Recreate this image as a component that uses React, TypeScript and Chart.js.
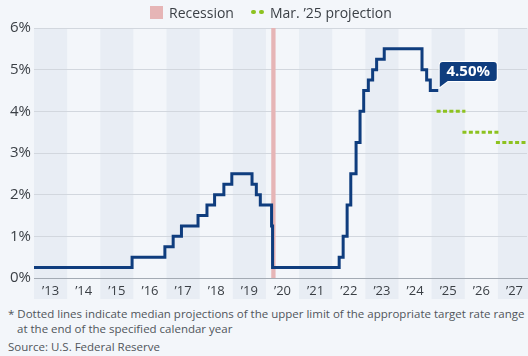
import React, { useEffect, useRef } from "react";
import { Chart, registerables } from "chart.js";

Chart.register(...registerables);

// Fed funds target rate (upper limit), decimal year of change -> new value
const rateDates = [2013.0, 2015.96, 2016.95, 2017.2, 2017.45, 2017.95, 2018.22, 2018.45, 2018.73, 2018.97, 2019.58, 2019.71, 2019.83, 2020.17, 2020.2, 2022.21, 2022.33, 2022.45, 2022.56, 2022.72, 2022.84, 2022.95, 2023.09, 2023.22, 2023.34, 2023.57, 2024.71, 2024.85, 2024.96, 2025.2];
const rateValues = [0.25, 0.5, 0.75, 1.0, 1.25, 1.5, 1.75, 2.0, 2.25, 2.5, 2.25, 2.0, 1.75, 1.25, 0.25, 0.5, 1.0, 1.75, 2.5, 3.25, 4.0, 4.5, 4.75, 5.0, 5.25, 5.5, 5.0, 4.75, 4.5, 4.5];

// Mar. '25 projections (start, end, value)
const projStarts = [2025.15, 2025.93, 2026.94];
const projEnds = [2026.02, 2027.02, 2028.0];
const projValues = [4.0, 3.5, 3.25];

const years = [2013, 2014, 2015, 2016, 2017, 2018, 2019, 2020, 2021, 2022, 2023, 2024, 2025, 2026, 2027];
const yTicks = [0, 1, 2, 3, 4, 5, 6];
const recession = [2020.16, 2020.29];
const xMin = 2013;
const xMax = 2027.88;

const FONT = "'Open Sans', sans-serif";
const NAVY = "#0f3d7e";
const GREEN = "#8dc21f";
const BG = "#f3f6fa";
const BAND = "#e8edf4";

const bandsPlugin = {
  id: "bands",
  beforeDraw(chart: any) {
    const { ctx, chartArea, scales } = chart;
    const x = scales.x;
    ctx.save();
    years.forEach((yr, i) => {
      if (i % 2 === 0) {
        const l = x.getPixelForValue(yr);
        const r = x.getPixelForValue(yr + 1);
        ctx.fillStyle = BAND;
        ctx.fillRect(l, chartArea.top, r - l, chartArea.bottom + 21 - chartArea.top);
      }
    });
    ctx.restore();
  },
  beforeDatasetsDraw(chart: any) {
    const { ctx, chartArea, scales } = chart;
    const x = scales.x;
    const l = x.getPixelForValue(recession[0]);
    const r = x.getPixelForValue(recession[1]);
    ctx.save();
    ctx.fillStyle = "#e6b5b6";
    ctx.fillRect(l, chartArea.top, r - l, chartArea.bottom - chartArea.top);
    ctx.restore();
  },
  afterDatasetsDraw(chart: any) {
    const { ctx, scales } = chart;
    const last = rateDates.length - 1;
    const px = scales.x.getPixelForValue(rateDates[last]);
    const py = scales.y.getPixelForValue(rateValues[last]);
    const text = rateValues[last].toFixed(2) + "%";
    const left = px + 1.5;
    const top = py - 28.5;
    const w = 57;
    const h = 19;
    const rr = 3;
    ctx.save();
    const path = () => {
      ctx.beginPath();
      ctx.moveTo(left + rr, top);
      ctx.lineTo(left + w - rr, top);
      ctx.quadraticCurveTo(left + w, top, left + w, top + rr);
      ctx.lineTo(left + w, top + h - rr);
      ctx.quadraticCurveTo(left + w, top + h, left + w - rr, top + h);
      ctx.lineTo(left + 8, top + h);
      ctx.lineTo(left, top + h + 6);
      ctx.lineTo(left, top + rr);
      ctx.quadraticCurveTo(left, top, left + rr, top);
      ctx.closePath();
    };
    path();
    ctx.strokeStyle = "#ffffff";
    ctx.lineWidth = 2;
    ctx.stroke();
    ctx.fillStyle = NAVY;
    ctx.fill();
    ctx.fillStyle = "#ffffff";
    ctx.font = "bold 15px " + FONT;
    ctx.textAlign = "center";
    ctx.textBaseline = "middle";
    ctx.fillText(text, left + w / 2, top + h / 2 + 0.5);
    ctx.restore();
  },
};

export default function App() {
  const ref = useRef<HTMLCanvasElement | null>(null);

  useEffect(() => {
    if (!ref.current) return;
    const datasets: any[] = [
      {
        label: "Rate",
        data: rateDates.map((d, i) => ({ x: d, y: rateValues[i] })),
        borderColor: NAVY,
        borderWidth: 3,
        stepped: true,
        pointRadius: 0,
        fill: false,
        borderJoinStyle: "miter",
      },
    ];
    projValues.forEach((v, i) => {
      datasets.push({
        label: "Projection " + (i + 1),
        data: [
          { x: projStarts[i], y: v },
          { x: projEnds[i], y: v },
        ],
        borderColor: GREEN,
        borderWidth: 3,
        borderDash: [4, 2.4],
        pointRadius: 0,
        fill: false,
      });
    });

    const chart = new Chart(ref.current, {
      type: "line",
      data: { datasets },
      plugins: [bandsPlugin],
      options: {
        animation: false,
        responsive: false,
        devicePixelRatio: 1,
        layout: { padding: { top: 28, right: 0, left: 0, bottom: 0 } },
        plugins: { legend: { display: false }, tooltip: { enabled: false } },
        scales: {
          x: {
            type: "linear",
            min: xMin,
            max: xMax,
            afterBuildTicks: (axis: any) => {
              axis.ticks = years.map((y) => ({ value: y + 0.5 }));
            },
            afterFit: (axis: any) => {
              axis.height = 27;
            },
            ticks: {
              autoSkip: false,
              maxRotation: 0,
              padding: 5,
              color: "#3a3f45",
              font: { family: FONT, size: 13 },
              callback: (v: any) => "\u2019" + String(Math.floor(Number(v))).slice(2),
            },
            grid: { display: false, drawTicks: false },
            border: { display: true, color: "#a4abb4", width: 1 },
          },
          y: {
            min: 0,
            max: 6,
            afterBuildTicks: (axis: any) => {
              axis.ticks = yTicks.map((v) => ({ value: v }));
            },
            afterFit: (axis: any) => {
              axis.width = 34;
            },
            ticks: {
              padding: 3,
              color: "#3a3f45",
              font: { family: FONT, size: 15 },
              callback: (v: any) => v + "%",
            },
            grid: { color: "#d2d7de", lineWidth: 1, drawTicks: false },
            border: { display: false },
          },
        },
      },
    } as any);
    return () => chart.destroy();
  }, []);

  return (
    <div
      style={{
        position: "fixed",
        left: 0,
        top: 0,
        width: 528,
        height: 356,
        background: BG,
        fontFamily: FONT,
        overflow: "hidden",
      }}
    >
      <canvas ref={ref} width={528} height={305} style={{ position: "absolute", left: 0, top: 0 }} />
      <div
        style={{
          position: "absolute",
          top: 2,
          left: 150,
          height: 20,
          display: "flex",
          alignItems: "center",
          fontSize: 14,
          color: "#3a3f45",
          whiteSpace: "nowrap",
        }}
      >
        <span style={{ display: "inline-block", width: 13, height: 13, background: "#e6b5b6", marginRight: 6 }} />
        <span>Recession</span>
        <span style={{ display: "inline-flex", marginLeft: 17, marginRight: 6 }}>
          <span style={{ display: "inline-block", width: 5, height: 4, borderRadius: 2, background: GREEN, marginRight: 3 }} />
          <span style={{ display: "inline-block", width: 5, height: 4, borderRadius: 2, background: GREEN }} />
        </span>
        <span>Mar. ’25 projection</span>
      </div>
      <div
        style={{
          position: "absolute",
          top: 306,
          left: 8,
          width: 520,
          fontSize: 11.5,
          lineHeight: "15px",
          color: "#50555b",
          paddingLeft: 9,
          textIndent: -9,
          boxSizing: "border-box",
        }}
      >
        * Dotted lines indicate median projections of the upper limit of the appropriate target rate range at the end of the specified calendar year
      </div>
      <div
        style={{
          position: "absolute",
          top: 339,
          left: 8,
          fontSize: 11.5,
          lineHeight: "15px",
          color: "#50555b",
          whiteSpace: "nowrap",
        }}
      >
        Source: U.S. Federal Reserve
      </div>
    </div>
  );
}
